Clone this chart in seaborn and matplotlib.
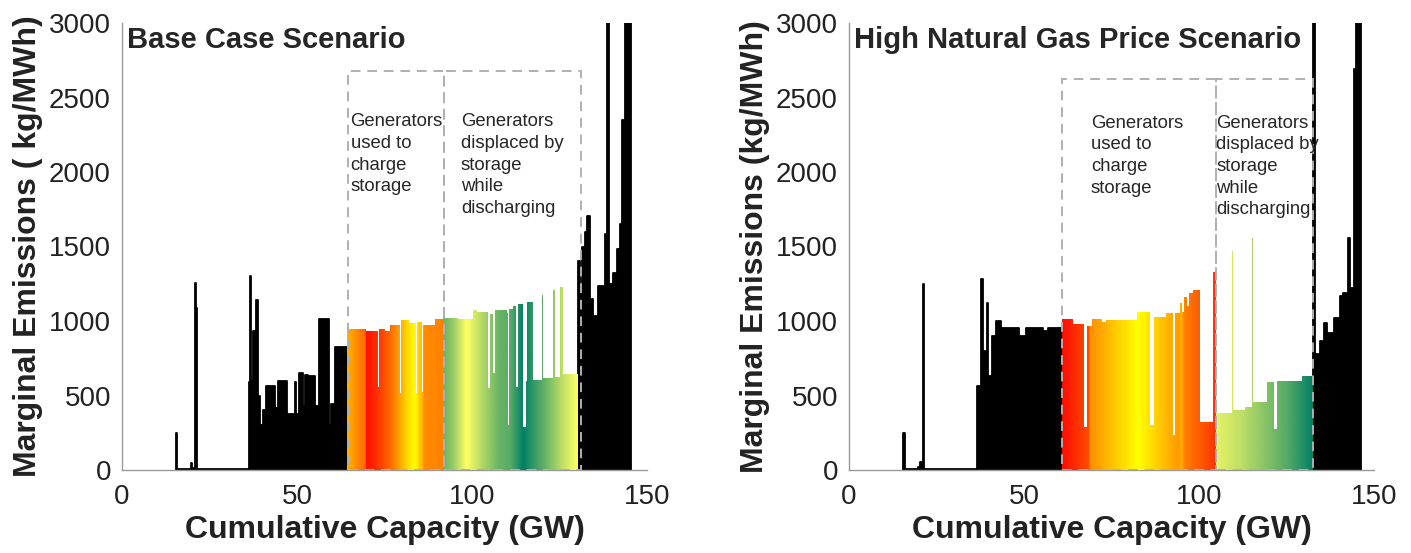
import numpy as np
import matplotlib
matplotlib.use("Agg")
import matplotlib.pyplot as plt
from matplotlib.patches import PathPatch, Rectangle
from matplotlib.path import Path
import seaborn as sns

# ---------------- Base case supply curve ----------------
# Each generator block: cumulative capacity where it starts (GW) and its
# marginal emission rate (kg/MWh).  The last block ends at base_end.
base_start = [15.3, 15.8, 19.6, 20.1, 20.9, 21.2, 21.4, 36.2, 36.6, 36.9,
              37.5, 38.4, 38.9, 39.5, 40.2, 41.0, 43.6, 44.6, 47.0, 49.4,
              49.7, 50.6, 51.8, 52.4, 53.2, 55.2, 56.3, 59.2, 59.8, 60.8,
              64.3, 69.7, 73.0, 73.4, 75.0, 76.7, 79.3, 79.8, 82.0, 84.0,
              84.4, 85.6, 86.0, 89.4,
              91.85, 96.1, 100.4, 101.3, 104.6, 105.1, 106.0, 106.6, 109.9, 110.3,
              110.7, 111.8, 112.6, 113.1, 114.7, 115.3, 115.8, 117.5, 119.9, 120.4,
              123.2, 123.7, 125.1, 125.9,
              130.4, 130.9, 131.5, 132.3, 132.9, 133.7, 134.7, 136.1, 138.0, 138.5,
              139.1, 140.3, 141.3, 142.3, 142.9, 143.6]
base_rate = [245, 8, 45, 15, 1255, 1090, 10, 590, 1300, 600,
             930, 1140, 500, 300, 405, 566, 416, 596, 378, 590,
             378, 652, 427, 640, 634, 427, 1016, 303, 440, 827,
             944, 933, 555, 944, 933, 973, 517, 1007, 989, 520,
             994, 525, 973, 1011,
             1023, 1011, 1074, 1062, 551, 1044, 650, 1074, 1051, 300,
             1083, 1101, 556, 1116, 289, 600, 1128, 607, 1173, 616,
             1209, 625, 1225, 641,
             1405, 1215, 1500, 1596, 1708, 1146, 1034, 1236, 1585, 3100,
             1250, 1320, 1480, 1650, 2350, 3100]
base_end = 145.3
base_charge = (64.3, 91.85)
base_discharge = (91.85, 130.4)
base_box = (64.5, 92.0, 131.0, 2680)
# colour position (0-1) along capacity inside each highlighted band
base_charge_shade_x = [64.3, 69.6, 69.7, 73.0, 76.7, 79.0, 81.4, 83.8, 84.8, 85.7, 86.2, 91.85]
base_charge_shade = [0.70, 0.40, 0.05, 0.20, 0.42, 0.62, 0.85, 1.00, 0.80, 0.72, 0.55, 0.50]
base_discharge_shade_x = [91.85, 94.8, 98.6, 103.0, 108.1, 111.0, 114.8, 117.0, 121.0, 126.0, 130.4]
base_discharge_shade = [0.40, 0.60, 1.00, 0.70, 0.40, 0.35, 0.00, 0.15, 0.40, 0.75, 1.00]

# ---------------- High natural gas price supply curve ----------------
high_start = [15.5, 16.0, 19.6, 20.3, 21.0, 21.3, 21.5, 36.6, 37.8, 38.2,
              39.3, 39.8, 40.8, 42.0, 43.5, 48.6, 50.2, 50.7, 55.3, 56.8,
              60.9, 64.0, 67.0, 68.0, 69.3, 72.2, 73.4, 82.4, 86.0, 87.0,
              90.6, 92.6, 93.2, 94.6, 95.2, 95.8, 96.5, 97.2, 98.3, 100.3,
              103.9,
              104.9, 109.4, 109.7, 113.0, 115.1, 115.5, 119.3, 121.4, 122.2, 129.5,
              132.5, 133.0, 134.6, 135.6, 136.6, 138.5, 140.2, 141.2, 142.7, 143.1,
              144.3, 144.8]
high_rate = [250, 8, 20, 55, 1250, 1090, 10, 567, 1282, 800,
             1122, 633, 900, 1000, 956, 900, 589, 956, 933, 956,
             1011, 978, 289, 967, 1011, 993, 1004, 1060, 304, 1029,
             1051, 233, 1055, 1120, 1060, 1160, 1100, 1190, 1211, 322,
             1327,
             384, 1467, 400, 422, 1556, 456, 589, 278, 600, 633,
             3100, 780, 867, 989, 922, 1022, 1167, 1189, 1556, 1222,
             2689, 3100]
high_end = 146.2
high_charge = (60.9, 104.9)
high_discharge = (104.9, 132.5)
high_box = (60.9, 104.9, 132.5, 2622)
high_charge_shade_x = [60.9, 68.6, 68.8, 82.6, 94.3, 95.0, 96.0, 105.0]
high_charge_shade = [0.05, 0.30, 0.55, 1.00, 0.60, 0.70, 0.50, 0.20]
high_discharge_shade_x = [104.9, 112.0, 120.0, 126.0, 132.5]
high_discharge_shade = [0.90, 0.75, 0.50, 0.30, 0.00]

charge_label = "Generators\nused to\ncharge\nstorage"
discharge_label = "Generators\ndisplaced by\nstorage\nwhile\ndischarging"
x_ticks = [0, 50, 100, 150]
y_ticks = [0, 500, 1000, 1500, 2000, 2500, 3000]

sns.set_style("white")
plt.rcParams["font.family"] = ["Liberation Sans", "DejaVu Sans"]

AXIS_GREY = "#9a9a9a"
BOX_GREY = "#b0b0b0"


def step_outline(start, rate, end):
    edges = list(start) + [end]
    xs, ys = [edges[0]], [0.0]
    for i, r in enumerate(rate):
        xs += [edges[i], edges[i + 1]]
        ys += [r, r]
    xs.append(edges[-1])
    ys.append(0.0)
    return np.array(xs, float), np.array(ys, float)


def subset(start, rate, lo, hi):
    idx = [i for i, s in enumerate(start) if lo <= s < hi]
    return [start[i] for i in idx], [rate[i] for i in idx]


def draw_black(ax, start, rate, end):
    if not start:
        return
    xs, ys = step_outline(start, rate, end)
    ax.fill(xs, ys, color="black", lw=0, zorder=2)
    sns.lineplot(x=xs, y=ys, sort=False, estimator=None, color="black",
                 lw=1.3, ax=ax, zorder=2.2)


def draw_band(ax, start, rate, lo, hi, shade_x, shade, cmap):
    s, r = subset(start, rate, lo, hi)
    xs, ys = step_outline(s, r, hi)
    patch = PathPatch(Path(np.column_stack([xs, ys])), facecolor="none",
                      edgecolor="none", transform=ax.transData)
    ax.add_patch(patch)
    grid = np.linspace(lo, hi, 800)
    vals = np.interp(grid, shade_x, shade)
    rgb = plt.get_cmap(cmap)(vals)[None, :, :3]
    im = ax.imshow(rgb, extent=[lo, hi, 0, 3200], aspect="auto",
                   interpolation="bilinear", zorder=3, origin="lower")
    im.set_clip_path(patch)


def panel(ax, start, rate, end, charge, discharge, box,
          cshade_x, cshade, dshade_x, dshade, title, ylabel,
          charge_text_x, discharge_text_x, text_top):
    draw_black(ax, *subset(start, rate, 0, charge[0]), charge[0])
    draw_black(ax, *subset(start, rate, discharge[1], 1e9), end)
    draw_band(ax, start, rate, charge[0], charge[1], cshade_x, cshade, "autumn")
    draw_band(ax, start, rate, discharge[0], discharge[1], dshade_x, dshade, "summer")

    left, mid, right, top = box
    for lo, hi in ((left, mid), (mid, right)):
        ax.add_patch(Rectangle((lo, 0), hi - lo, top, fill=False,
                               edgecolor=BOX_GREY, lw=1.4,
                               linestyle=(0, (5, 3.5)), zorder=4))

    for x, label in ((charge_text_x, charge_label), (discharge_text_x, discharge_label)):
        ax.text(x, text_top, label, fontsize=13.3, va="top", ha="left",
                linespacing=1.36, zorder=5)
    ax.text(1.5, 2835, title, fontsize=21, fontweight="bold", va="baseline",
            ha="left", zorder=5)

    ax.set_xlim(0, 150)
    ax.set_ylim(0, 3000)
    ax.set_xticks(x_ticks)
    ax.set_yticks(y_ticks)
    ax.tick_params(axis="both", direction="in", length=5, width=1,
                   color=AXIS_GREY, labelsize=20, labelcolor="#222222")
    ax.tick_params(axis="x", pad=10)
    ax.tick_params(axis="y", pad=8)
    sns.despine(ax=ax)
    for side in ("left", "bottom"):
        ax.spines[side].set_color(AXIS_GREY)
        ax.spines[side].set_linewidth(1.0)
    ax.set_xlabel("Cumulative Capacity (GW)", fontsize=23, fontweight="bold",
                  color="#222222", labelpad=4)
    ax.set_ylabel(ylabel, fontsize=23, fontweight="bold", color="#222222",
                  labelpad=4)
    ax.set_facecolor("white")


fig = plt.figure(figsize=(14.11, 5.53), dpi=100)
ax1 = fig.add_axes([122 / 1411, 83 / 553, 525 / 1411, 447 / 553])
ax2 = fig.add_axes([849 / 1411, 83 / 553, 525 / 1411, 447 / 553])

panel(ax1, base_start, base_rate, base_end, base_charge, base_discharge,
      base_box, base_charge_shade_x, base_charge_shade,
      base_discharge_shade_x, base_discharge_shade,
      "Base Case Scenario", "Marginal Emissions ( kg/MWh)", 65.3, 96.8, 2395)
panel(ax2, high_start, high_rate, high_end, high_charge, high_discharge,
      high_box, high_charge_shade_x, high_charge_shade,
      high_discharge_shade_x, high_discharge_shade,
      "High Natural Gas Price Scenario", "Marginal Emissions (kg/MWh)",
      69.1, 104.9, 2385)

fig.savefig("out.png", dpi=100, facecolor="white")
